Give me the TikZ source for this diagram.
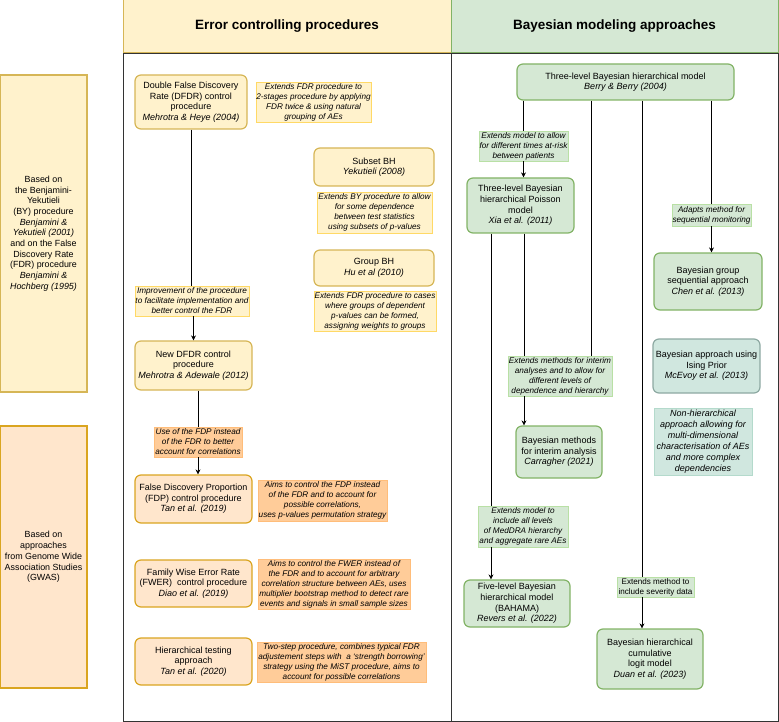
\documentclass[tikz,border=0pt]{standalone}
\usepackage{fontspec}
\setmainfont{Liberation Sans}
\usetikzlibrary{arrows.meta}
\definecolor{YellowClr}{rgb}{1,0.949,0.8}
\definecolor{YellowLineClr}{rgb}{0.839,0.714,0.337}
\definecolor{NoteYellowLineClr}{rgb}{1,0.851,0.4}
\definecolor{OrangeClr}{rgb}{1,0.902,0.8}
\definecolor{OrangeLineClr}{rgb}{0.855,0.647,0.125}
\definecolor{NoteOrangeClr}{rgb}{1,0.8,0.6}
\definecolor{NoteOrangeLineClr}{rgb}{1,0.741,0.478}
\definecolor{GreenClr}{rgb}{0.835,0.910,0.831}
\definecolor{GreenLineClr}{rgb}{0.510,0.702,0.4}
\definecolor{NoteGreenLineClr}{rgb}{0.725,0.878,0.647}
\definecolor{TealClr}{rgb}{0.816,0.906,0.875}
\definecolor{TealLineClr}{rgb}{0.553,0.663,0.635}
\definecolor{NoteTealLineClr}{rgb}{0.706,0.855,0.800}
\definecolor{FrameClr}{rgb}{0.2,0.2,0.2}

\begin{document}
\begin{tikzpicture}[x=1pt,y=-1pt,
  every node/.style={align=center,inner sep=0pt,font=\fontsize{9}{10.6}\selectfont},
  ErrBox/.style={draw=YellowLineClr,fill=YellowClr,rounded corners=6pt,line width=1.2pt},
  GwasBox/.style={draw=OrangeLineClr,fill=OrangeClr,rounded corners=6pt,line width=1.2pt},
  BayBox/.style={draw=GreenLineClr,fill=GreenClr,rounded corners=6pt,line width=1.2pt},
  IsingBox/.style={draw=TealLineClr,fill=TealClr,rounded corners=6pt,line width=1.2pt},
  ErrNote/.style={draw=NoteYellowLineClr,fill=YellowClr,line width=0.6pt,font=\fontsize{8.2}{10}\selectfont\itshape},
  GwasNote/.style={ErrNote,draw=NoteOrangeLineClr,fill=NoteOrangeClr},
  BayNote/.style={ErrNote,draw=NoteGreenLineClr,fill=GreenClr},
  TealNote/.style={ErrNote,draw=NoteTealLineClr,fill=TealClr,font=\fontsize{9}{10.9}\selectfont\itshape},
  SideBox/.style={line width=1.2pt,font=\fontsize{8.9}{10.7}\selectfont},
  HeadBox/.style={line width=1pt,font=\fontsize{13.5}{15}\selectfont\bfseries},
  Line/.style={line width=0.7pt,draw=black},
  Arrow/.style={Line,-{Stealth[length=5pt,width=5pt]}}]
\useasboundingbox (0,0) rectangle (779,722);

\draw[FrameClr,line width=0.8pt] (123,53) rectangle (451,721);
\draw[FrameClr,line width=0.8pt] (451,53) rectangle (778,721);
\node[HeadBox,draw=YellowLineClr,fill=YellowClr,minimum width=328,minimum height=53] (errhead) at (287,26.5) {Error controlling procedures};
\node[HeadBox,draw=GreenLineClr,fill=GreenClr,minimum width=327,minimum height=53] (bayhead) at (614.5,26.5) {Bayesian modeling approaches};

\node[SideBox,draw=YellowLineClr,fill=YellowClr,minimum width=87,minimum height=317] (bybox) at (43.5,233.5)
  {Based on\\the Benjamini-\\Yekutieli\\(BY) procedure\\\textit{Benjamini \&}\\\textit{Yekutieli (2001)}\\and on the False\\Discovery Rate\\(FDR) procedure\\\textit{Benjamini \&}\\\textit{Hochberg (1995)}};
\node[SideBox,draw=OrangeLineClr,fill=OrangeClr,minimum width=87,minimum height=262] (gwasbox) at (43.5,557)
  {Based on\\approaches\\from Genome Wide\\Association Studies\\(GWAS)};

\node[ErrBox,minimum width=112,minimum height=54] (dfdr) at (191,102) {Double False Discovery\\Rate (DFDR) control\\procedure\\\textit{Mehrotra \& Heye (2004)}};
\node[ErrNote,minimum width=115,minimum height=40] (dfdrnote) at (313.5,102) {Extends FDR procedure to\\2-stages procedure by applying\\FDR twice \& using natural\\grouping of AEs};
\node[ErrBox,minimum width=120,minimum height=38] (subset) at (374,167) {Subset BH\\\textit{Yekutieli (2008)}};
\node[ErrNote,minimum width=115,minimum height=41] (subsetnote) at (374.5,212.5) {Extends BY procedure to allow\\for some dependence\\between test statistics\\using subsets of p-values};
\node[ErrBox,minimum width=120,minimum height=36] (group) at (374,268) {Group BH\\\textit{Hu et al (2010)}};
\node[ErrNote,minimum width=122,minimum height=40] (groupnote) at (375,311) {Extends FDR procedure to cases\\where groups of dependent\\p-values can be formed,\\assigning weights to groups};
\node[ErrNote,minimum width=114,minimum height=30] (imprnote) at (192,301) {Improvement of the procedure\\to facilitate implementation and\\better control the FDR};
\node[ErrBox,minimum width=117,minimum height=49] (newdfdr) at (193.5,365.5) {New DFDR control\\procedure\\\textit{Mehrotra \& Adewale (2012)}};

\node[GwasNote,minimum width=88,minimum height=30] (fdpnote) at (198,442) {Use of the FDP instead\\of the FDR to better\\account for correlations};
\node[GwasBox,minimum width=117,minimum height=48] (fdp) at (193.5,499) {False Discovery Proportion\\(FDP) control procedure\\\textit{Tan et al. (2019)}};
\node[GwasNote,minimum width=129,minimum height=41] (fdpdesc) at (322.5,500.5) {Aims to control the FDP instead\\of the FDR and to account for\\possible correlations,\\uses p-values permutation strategy};
\node[GwasBox,minimum width=117,minimum height=47] (fwer) at (193.5,583.5) {Family Wise Error Rate\\(FWER)\ \ control procedure\\\textit{Diao et al. (2019)}};
\node[GwasNote,minimum width=152,minimum height=50] (fwerdesc) at (334,584) {Aims to control the FWER instead of\\the FDR and to account for arbitrary\\correlation structure between AEs, uses\\multiplier bootstrap method to detect rare\\events and signals in small sample sizes};
\node[GwasBox,minimum width=117,minimum height=47] (hier) at (193.5,661.5) {Hierarchical testing\\approach\\\textit{Tan et al. (2020)}};
\node[GwasNote,minimum width=169,minimum height=40] (hierdesc) at (341.5,662) {Two-step procedure, combines typical FDR\\adjustement steps with\ \ a `strength borrowing'\\strategy using the MiST procedure, aims to\\account for possible correlations};

\draw[Line] (dfdr.south) -- (dfdr.south |- imprnote.north);
\draw[Arrow] (imprnote.south -| newdfdr) -- (newdfdr.north);
\draw[Line] (newdfdr.south -| fdpnote) -- (fdpnote.north);
\draw[Arrow] (fdpnote.south) -- (fdp.north -| fdpnote);

\node[BayBox,minimum width=217,minimum height=36] (berry) at (625.5,82) {Three-level Bayesian hierarchical model\\\textit{Berry \& Berry (2004)}};
\node[BayNote,minimum width=89,minimum height=30] (xianote) at (523.5,146) {Extends model to allow\\for different times at-risk\\between patients};
\node[BayBox,minimum width=107,minimum height=55] (xia) at (520.5,205.5) {Three-level Bayesian\\hierarchical Poisson\\model\\\textit{Xia et al. (2011)}};
\node[BayNote,minimum width=79,minimum height=22] (chennote) at (711.5,215) {Adapts method for\\sequential monitoring};
\node[BayBox,minimum width=108,minimum height=57] (chen) at (708,281.5) {Bayesian group\\sequential approach\\\textit{Chen et al. (2013)}};
\node[IsingBox,minimum width=107,minimum height=54] (ising) at (706.5,366) {Bayesian approach using\\Ising Prior\\\textit{McEvoy et al. (2013)}};
\node[TealNote,minimum width=98,minimum height=67] (nonhier) at (703,441.5) {Non-hierarchical\\approach allowing for\\multi-dimensional\\characterisation of AEs\\and more complex\\dependencies};
\node[BayNote,minimum width=104,minimum height=40] (interimnote) at (560,376) {Extends methods for interim\\analyses and to allow for\\different levels of\\dependence and hierarchy};
\node[BayBox,minimum width=86,minimum height=52] (carragher) at (559,452) {Bayesian methods\\for interim analysis\\\textit{Carragher (2021)}};
\node[BayNote,minimum width=90,minimum height=41] (bahamanote) at (523,526.5) {Extends model to\\include all levels\\of MedDRA hierarchy\\and aggregate rare AEs};
\node[BayBox,minimum width=106,minimum height=47] (bahama) at (517,603.5) {Five-level Bayesian\\hierarchical model\\(BAHAMA)\\\textit{Revers et al. (2022)}};
\node[BayNote,font=\fontsize{8.1}{10}\selectfont,minimum width=77,minimum height=20] (sevnote) at (655.5,587) {Extends method to\\include severity data};
\node[BayBox,minimum width=106,minimum height=60] (duan) at (650,659) {Bayesian hierarchical\\cumulative\\logit model\\\textit{Duan et al. (2023)}};

\coordinate (berryI) at ([xshift=-34.5]berry.south);
\coordinate (berryS) at ([xshift=16.5]berry.south);
\coordinate (xiaL) at ([xshift=-29.5]xia.south);
\coordinate (xiaR) at ([xshift=3.5]xia.south);

\draw[Line] (berry.south -| xianote) -- (xianote.north);
\draw[Arrow] (xianote.south) -- (xia.north -| xianote);
\draw[Line] (berry.south -| chennote) -- (chennote.north);
\draw[Arrow] (chennote.south) -- (chen.north -| chennote);
\draw[Line] (berryI) -- (berryI |- interimnote.north);
\draw[Line] (xiaR) -- (xiaR |- interimnote.north);
\draw[Arrow] (xiaR |- interimnote.south) -- (xiaR |- carragher.north);
\draw[Line] (xiaL) -- (xiaL |- bahamanote.north);
\draw[Arrow] (xiaL |- bahamanote.south) -- (xiaL |- bahama.north);
\draw[Line] (berryS) -- (berryS |- sevnote.north);
\draw[Arrow] (berryS |- sevnote.south) -- (berryS |- duan.north);

\end{tikzpicture}
\end{document}
